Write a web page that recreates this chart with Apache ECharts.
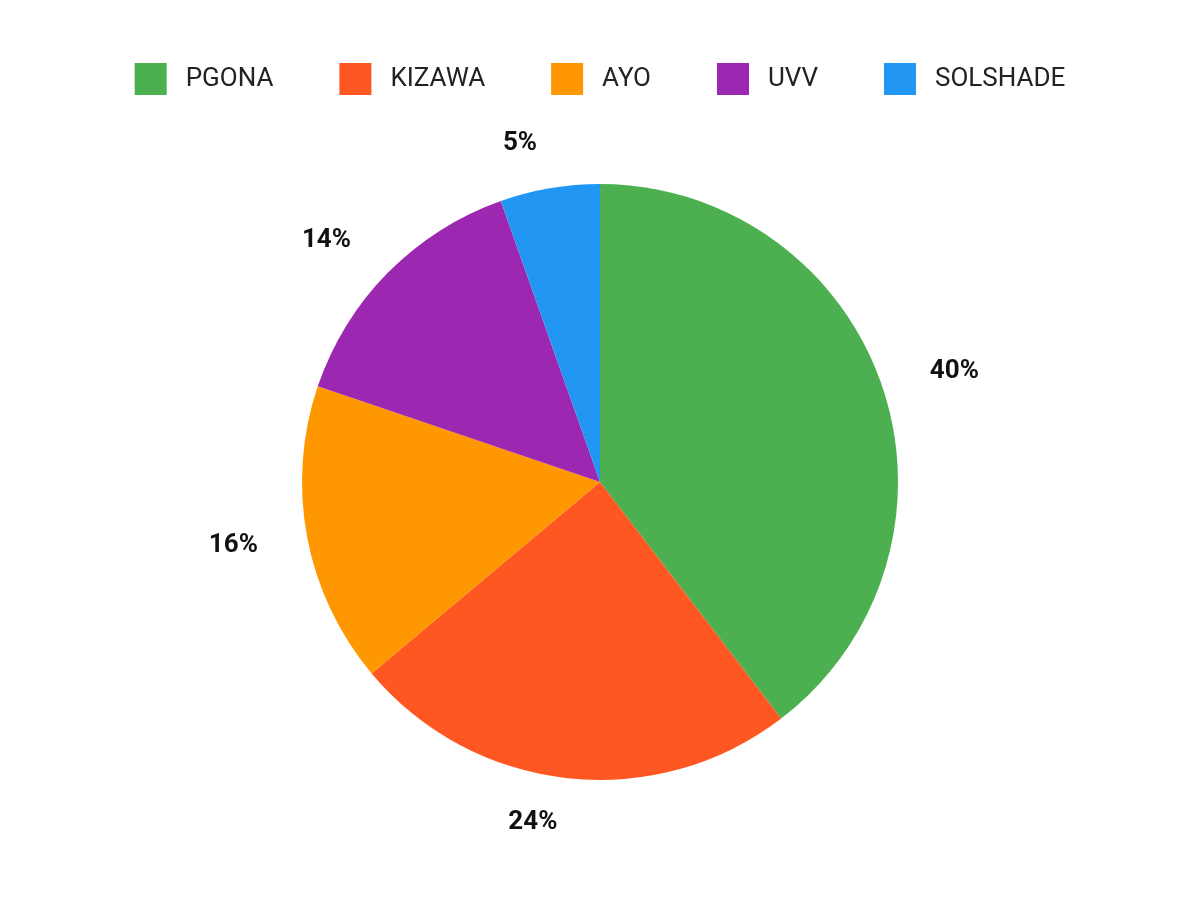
<!DOCTYPE html>
<html><head><meta charset="utf-8">
<script src="https://cdn.jsdelivr.net/npm/echarts@6/dist/echarts.min.js"></script>
<style>html,body{margin:0;background:#fff}#c{width:1200px;height:900px}</style>
</head><body><div id="c"></div>
<script>
const categories = ["PGONA","KIZAWA","AYO","UVV","SOLSHADE"];
const values = [39.6, 24.3, 16.3, 14.4, 5.4];
const colors = ["#4CAF50","#FF5722","#FF9800","#9C27B0","#2196F3"];
const chart = echarts.init(document.getElementById('c'));
chart.setOption({
  animation:false,
  color: colors,
  legend:{top:58,left:'center',itemWidth:32,itemHeight:32,itemGap:66,icon:'rect',
    textStyle:{fontFamily:'Roboto',fontSize:26,color:'#222',padding:[0,0,0,14]}},
  series:[{type:'pie',center:[600,482],radius:298,startAngle:90,clockwise:true,
    data:categories.map((c,i)=>({name:c,value:values[i]})),
    label:{position:'outside',formatter:p=>Math.round(p.percent)+'%',
      fontFamily:'Roboto',fontSize:26,fontWeight:'bold',color:'#111'},
    labelLine:{show:false,length:45,length2:0},
    itemStyle:{borderWidth:0}
  }]
});
</script></body></html>
